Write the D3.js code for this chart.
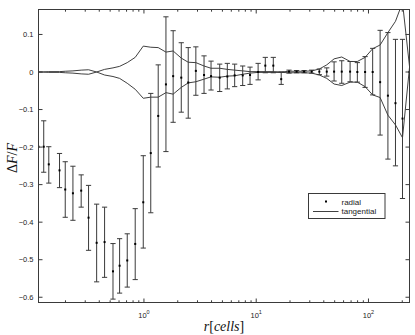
<!DOCTYPE html>
<html><head><meta charset="utf-8">
<script src="https://cdn.jsdelivr.net/npm/d3@7"></script>
<style>
html,body{margin:0;padding:0;background:#fff;}
svg{display:block;}
</style></head>
<body>
<svg id="chart" width="415" height="335"></svg>
<script>
// ---- data ----
const r = [0.115, 0.128, 0.142, 0.177, 0.199, 0.233, 0.276, 0.321, 0.379, 0.446, 0.530, 0.607, 0.710, 0.836, 0.986,
  1.15, 1.34, 1.57, 1.82, 2.15, 2.48, 2.90, 3.43, 3.96, 4.73, 5.53, 6.43, 7.58, 8.81, 10.4, 12.05, 14.2, 16.7,
  19.6, 22.9, 26.7, 31.2, 36.5, 42.5, 49.4, 57.8, 68.6, 79.6, 93.3, 109, 127, 149, 174, 201, 232];
const radial = [-0.199, -0.199, -0.246, -0.262, -0.313, -0.323, -0.316, -0.388, -0.455, -0.453, -0.531, -0.516, -0.502,
  -0.458, -0.347, -0.216, -0.117, -0.033, -0.011, -0.015, -0.028, 0.003, -0.008, -0.011, -0.015, -0.012, -0.009,
  -0.009, -0.008, 0.0, 0.017, 0.017, -0.019, 0.001, 0.001, 0.001, 0.001, 0.001, 0.001, 0.001, 0.001, 0.001, 0.0,
  0.0, 0.0, -0.027, -0.063, -0.083, -0.124, 0.0];
const radialHigh = [-0.199, -0.130, -0.199, -0.217, -0.239, -0.251, -0.274, -0.302, -0.352, -0.360, -0.457, -0.444,
  -0.431, -0.364, -0.223, -0.057, 0.019, 0.147, 0.110, 0.078, 0.065, 0.067, 0.043, 0.029, 0.021, 0.023, 0.021,
  0.016, 0.013, 0.023, 0.039, 0.039, 0.0, 0.005, 0.004, 0.004, 0.005, 0.008, 0.011, 0.027, 0.030, 0.028, 0.025,
  0.041, 0.063, 0.111, 0.105, 0.087, 0.087, 0.0];
const radialLow = [-0.199, -0.267, -0.296, -0.308, -0.387, -0.395, -0.360, -0.475, -0.559, -0.547, -0.605, -0.589,
  -0.573, -0.553, -0.469, -0.375, -0.253, -0.212, -0.134, -0.107, -0.123, -0.062, -0.057, -0.048, -0.052, -0.045,
  -0.039, -0.036, -0.033, -0.021, -0.002, -0.002, -0.033, -0.003, -0.002, -0.002, -0.003, -0.007, -0.011, -0.024,
  -0.030, -0.026, -0.027, -0.041, -0.061, -0.168, -0.232, -0.250, -0.337, 0.0];
const tangentialUpper = [0.000, 0.000, 0.001, 0.001, 0.002, 0.003, 0.005, 0.006, 0.000, 0.007, 0.011, 0.015, 0.025,
  0.039, 0.069, 0.066, 0.065, 0.053, 0.056, 0.037, 0.026, 0.025, 0.016, 0.010, 0.010, 0.007, 0.005, 0.003, 0.001,
  0.001, 0.001, 0.001, 0.000, 0.002, 0.002, 0.002, 0.003, 0.008, 0.019, 0.035, 0.040, 0.028, 0.028, 0.039, 0.062,
  0.072, 0.105, 0.135, 0.185, 0.015];
const tangentialLower = [0.000, 0.000, -0.001, -0.001, -0.002, -0.003, -0.005, -0.006, 0.000, -0.008, -0.012, -0.017,
  -0.030, -0.046, -0.070, -0.067, -0.067, -0.055, -0.059, -0.041, -0.029, -0.026, -0.019, -0.013, -0.014, -0.011,
  -0.010, -0.006, -0.003, -0.001, -0.001, -0.001, -0.001, -0.002, -0.002, -0.002, -0.003, -0.008, -0.017, -0.032,
  -0.036, -0.027, -0.027, -0.039, -0.061, -0.068, -0.115, -0.141, -0.175, 0.012];
const yTicks = [-0.6, -0.5, -0.4, -0.3, -0.2, -0.1, 0, 0.1];
const yTickLabels = ["\u22120.6", "\u22120.5", "\u22120.4", "\u22120.3", "\u22120.2", "\u22120.1", "0", "0.1"];
const xMajorTicks = [1, 10, 100];
const xMajorExp = ["0", "1", "2"];
const legendLabels = ["radial", "tangential"];

// ---- layout ----
const L = 38.5, R = 409.5, T = 9.5, B = 302.5;
const svg = d3.select("#chart");
const x = d3.scaleLog().domain(d3.extent(r)).range([L, R]);
const y = d3.scaleLinear().domain([-0.614, 0.1665]).range([B, T]);
const axisCol = "#3a3a3a";
const font = "'Liberation Sans', Arial, Helvetica, sans-serif";

svg.append("defs").append("clipPath").attr("id", "clip")
  .append("rect").attr("x", L).attr("y", T).attr("width", R - L).attr("height", B - T);

const plot = svg.append("g").attr("clip-path", "url(#clip)");

// tangential lines
const line = d3.line().x((d) => x(d[0])).y((d) => y(d[1]));
[tangentialUpper, tangentialLower].forEach((arr) => {
  plot.append("path").datum(r.map((v, i) => [v, arr[i]]))
    .attr("d", line).attr("fill", "none").attr("stroke", "#2a2a2a").attr("stroke-width", 0.9);
});

// radial error bars
const capW = 2.6;
const eb = plot.append("g").attr("stroke", "#3a3a3a").attr("stroke-width", 1).attr("fill", "none");
r.forEach((v, i) => {
  const xx = x(v), y1 = y(radialHigh[i]), y2 = y(radialLow[i]);
  if (Math.abs(y2 - y1) < 0.5) return;
  eb.append("line").attr("x1", xx).attr("x2", xx).attr("y1", y1).attr("y2", y2);
  eb.append("line").attr("x1", xx - capW).attr("x2", xx + capW).attr("y1", y1).attr("y2", y1);
  eb.append("line").attr("x1", xx - capW).attr("x2", xx + capW).attr("y1", y2).attr("y2", y2);
});
plot.append("g").selectAll("rect").data(r).join("rect")
  .attr("x", (d) => x(d) - 1).attr("y", (d, i) => y(radial[i]) - 1)
  .attr("width", 2).attr("height", 2).attr("fill", "#000");

// ---- axes (box with inward ticks) ----
const ax = svg.append("g").attr("stroke", axisCol).attr("fill", "none");
ax.append("rect").attr("x", L).attr("y", T).attr("width", R - L).attr("height", B - T).attr("stroke-width", 1);

// y ticks left & right
yTicks.forEach((t) => {
  const yy = y(t);
  ax.append("line").attr("x1", L).attr("x2", L + 4).attr("y1", yy).attr("y2", yy);
  ax.append("line").attr("x1", R).attr("x2", R - 4).attr("y1", yy).attr("y2", yy);
});
svg.append("g").selectAll("text").data(yTicks).join("text")
  .attr("x", L - 5).attr("y", (d) => y(d) + 2.5)
  .attr("text-anchor", "end").attr("font-family", font).attr("font-size", 7.5).attr("fill", "#222")
  .text((d, i) => yTickLabels[i]);

// x ticks (major and minor) bottom & top
const allX = [];
for (let e = -1; e <= 2; e++) for (let m = 1; m <= 9; m++) {
  const v = m * Math.pow(10, e);
  if (v >= x.domain()[0] && v <= x.domain()[1]) allX.push({ v, major: m === 1 });
}
allX.forEach((t) => {
  const xx = x(t.v), len = t.major ? 4 : 2.2;
  ax.append("line").attr("x1", xx).attr("x2", xx).attr("y1", B).attr("y2", B - len);
  ax.append("line").attr("x1", xx).attr("x2", xx).attr("y1", T).attr("y2", T + len);
});
const xl = svg.append("g").attr("font-family", font).attr("fill", "#222");
xMajorTicks.forEach((t, i) => {
  const txt = xl.append("text").attr("x", x(t)).attr("y", 317.5).attr("text-anchor", "middle").attr("font-size", 7.5);
  txt.append("tspan").text("10");
  txt.append("tspan").attr("dy", -4).attr("font-size", 5.5).text(xMajorExp[i]);
});

// axis titles
const xt = svg.append("text").attr("x", 224).attr("y", 331).attr("text-anchor", "middle")
  .attr("font-family", "'Liberation Serif', 'DejaVu Serif', serif").attr("font-size", 14).attr("fill", "#111");
xt.append("tspan").attr("font-style", "italic").text("r");
xt.append("tspan").text("[");
xt.append("tspan").attr("font-style", "italic").text("cells");
xt.append("tspan").text("]");

const yt = svg.append("text").attr("transform", "translate(17,158) rotate(-90)").attr("text-anchor", "middle")
  .attr("font-family", "'Liberation Serif', 'DejaVu Serif', serif").attr("font-size", 14).attr("fill", "#111");
yt.append("tspan").text("\u0394");
yt.append("tspan").attr("font-style", "italic").text("F");
yt.append("tspan").text("/");
yt.append("tspan").attr("font-style", "italic").text("F");

// legend
const lg = svg.append("g");
lg.append("rect").attr("x", 308.5).attr("y", 193.5).attr("width", 76.5).attr("height", 25)
  .attr("fill", "#fff").attr("stroke", axisCol).attr("stroke-width", 1);
lg.append("rect").attr("x", 325).attr("y", 200.5).attr("width", 2).attr("height", 2).attr("fill", "#000");
lg.append("line").attr("x1", 313).attr("x2", 338.5).attr("y1", 211.5).attr("y2", 211.5)
  .attr("stroke", "#2a2a2a").attr("stroke-width", 0.9);
lg.selectAll("text").data(legendLabels).join("text")
  .attr("x", 341.5).attr("y", (d, i) => 204.5 + i * 9.5)
  .attr("font-family", font).attr("font-size", 8).attr("fill", "#222").text((d) => d);
</script>
</body></html>
